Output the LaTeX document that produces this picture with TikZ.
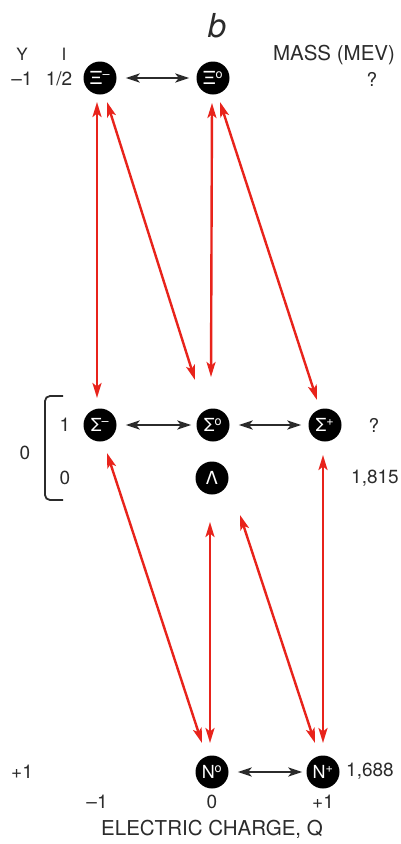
\documentclass[tikz,border=0pt]{standalone}
\usepackage{fontspec}
\setmainfont{TeX Gyre Heros}
\usetikzlibrary{arrows.meta,calc}
\definecolor{arrred}{HTML}{E8231B}
\definecolor{ink}{HTML}{2B2B2B}
\begin{document}
\begin{tikzpicture}[x=1pt,y=-1pt,
 particle/.style={circle,fill=black,text=white,minimum size=33pt,inner sep=0pt,font=\fontsize{18}{18}\selectfont},
 redarr/.style={draw=arrred,line width=2.4pt,{Stealth[length=15pt,width=9pt,inset=3.5pt]}-{Stealth[length=15pt,width=9pt,inset=3.5pt]}},
 blkarr/.style={draw=ink,line width=2.3pt,{Stealth[length=14pt,width=9pt,inset=3.5pt]}-{Stealth[length=14pt,width=9pt,inset=3.5pt]}},
 lbl/.style={text=ink,font=\fontsize{19}{19}\selectfont,inner sep=0pt},
 caplbl/.style={text=ink,font=\fontsize{20.5}{20.5}\selectfont,inner sep=0pt},
 small/.style={text=ink,font=\fontsize{17}{17}\selectfont,inner sep=0pt}]
\useasboundingbox (0,0) rectangle (400,844);
\fill[white] (0,0) rectangle (400,844);

% particles
\node[particle] (Xm) at (100,78) {Ξ\textsuperscript{–}};
\node[particle] (X0) at (213,78) {Ξ\textsuperscript{o}};
\node[particle] (Sm) at (100,425) {Σ\textsuperscript{–}};
\node[particle] (S0) at (213,425) {Σ\textsuperscript{o}};
\node[particle] (Sp) at (325,425) {Σ\textsuperscript{+}};
\node[particle] (L)  at (212,478) {Λ};
\node[particle] (N0) at (212,772) {N\textsuperscript{o}};
\node[particle] (Np) at (323,772) {N\textsuperscript{+}};

% labels
\node[text=ink,font=\fontsize{33}{33}\selectfont\itshape,inner sep=0pt] (b) at (217,26) {b};
\node[small] (Y) at (22,54) {Y};
\node[small] (I) at (64,54) {I};
\node[caplbl] (mass) at (334,55) {MASS (MEV)};
\node[lbl] (Yv) at (22,79) {–1};
\node[lbl] (Iv) at (59,79) {1/2};
\node[lbl] (q1) at (372,79) {?};
\node[lbl] (Y0) at (25,453) {0};
\node[lbl] (I1) at (65,425) {1};
\node[lbl] (I0) at (65,478) {0};
\node[lbl] (q2) at (374,425) {?};
\node[lbl] (m1) at (375,478) {1,815};
\node[lbl] (Yp) at (22,772) {+1};
\node[lbl] (m2) at (370,771) {1,688};
\node[lbl] (Qm) at (97,802) {–1};
\node[lbl] (Q0) at (212,802) {0};
\node[lbl] (Qp) at (323,802) {+1};
\node[caplbl] (Qlab) at (212,829) {ELECTRIC CHARGE, Q};

% bracket
\draw[ink,line width=1.8pt,rounded corners=5pt] (63,396) -- (45,396) -- (45,500) -- (63,500);

% black arrows
\draw[blkarr,shorten <=9pt,shorten >=7pt] (Xm) -- (X0);
\draw[blkarr,shorten <=9pt,shorten >=5pt] (Sm) -- (S0);
\draw[blkarr,shorten <=9pt,shorten >=7pt] (S0) -- (Sp);
\draw[blkarr,shorten <=9pt,shorten >=4pt] (N0) -- (Np);

% red arrows
\draw[redarr] ($(Xm)+(-3,24)$) -- ($(Sm)+(-3,-27)$);
\draw[redarr] ($(Xm)+(7,24)$) -- ($(S0)+(-18,-45)$);
\draw[redarr] ($(X0)+(-1,25)$) -- ($(S0)+(-2,-48)$);
\draw[redarr] ($(X0)+(7,24)$) -- ($(Sp)+(-8,-25)$);
\draw[redarr] ($(Sm)+(7,28)$) -- ($(N0)+(-10,-29)$);
\draw[redarr] ($(L)+(-2,44)$) -- ($(N0)+(-2,-29)$);
\draw[redarr] ($(L)+(28,37)$) -- ($(Np)+(-8,-29)$);
\draw[redarr] ($(Sp)+(-2,30)$) -- ($(Np)+(0,-29)$);
\end{tikzpicture}
\end{document}
